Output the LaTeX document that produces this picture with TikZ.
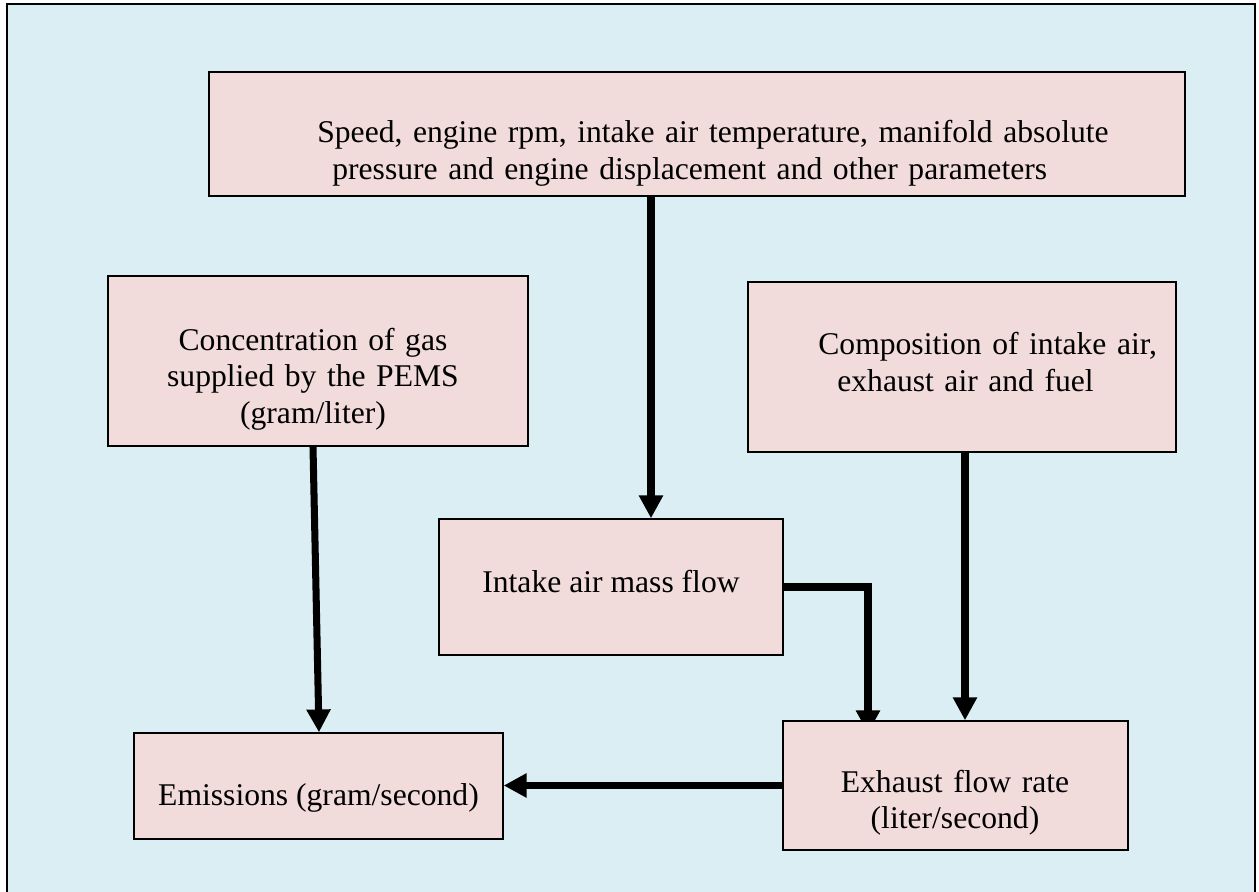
\documentclass[tikz,border=0pt]{standalone}
\usepackage{fontspec}
\setmainfont{Liberation Serif}
\usetikzlibrary{arrows.meta,calc}

\definecolor{paneblue}{HTML}{DAEEF3}
\definecolor{boxpink}{HTML}{F2DBDB}

\pgfdeclarelayer{frame}
\pgfdeclarelayer{links}
\pgfsetlayers{frame,links,main}

\tikzset{
  block/.style={draw=black,line width=0.8pt,fill=boxpink,inner sep=0pt},
  blocktext/.style={inner sep=0pt,font=\fontsize{18}{20.8}\selectfont},
  flow/.style={line width=4pt,line join=miter,-{Triangle[width=13pt,length=13pt]}},
}

\begin{document}
\begin{tikzpicture}[x=0.02cm,y=-0.02cm]

\useasboundingbox (0,0) rectangle (1259,892);

\begin{pgfonlayer}{frame}
\begin{scope}
\clip (0,0) rectangle (1259,892);
\draw [line width=1.2pt,fill=paneblue] (7,4) rectangle (1255,910);
\end{scope}
\end{pgfonlayer}

% boxes
\node [block,minimum width=19.52cm,minimum height=2.48cm] (speed) at (697,134) {};
\node [block,minimum width=8.4cm,minimum height=3.4cm] (conc) at (318,361) {};
\node [block,minimum width=8.56cm,minimum height=3.4cm] (comp) at (962,367) {};
\node [block,minimum width=6.88cm,minimum height=2.72cm] (intake) at (611,587) {};
\node [block,minimum width=7.38cm,minimum height=2.12cm] (emis) at (318.5,786) {};
\node [block,minimum width=6.9cm,minimum height=2.58cm] (exh) at (955.5,785.5) {};

% texts
\node [blocktext,anchor=base west,text width=17cm,align=left] (speedtxt) at (317,143)
  {Speed, engine rpm, intake air temperature, manifold absolute\\
   \hspace*{0.3cm}pressure and engine displacement and other parameters};
\node [blocktext,anchor=base,text width=8cm,align=center] (conctxt) at (313,350)
  {Concentration of gas\\supplied by the PEMS\\(gram/liter)};
\node [blocktext,anchor=base west,text width=8cm,align=left] (comptxt) at (818,355)
  {Composition of intake air,\\\hspace*{0.38cm}exhaust air and fuel};
\node [blocktext,anchor=base] (intaketxt) at (611,592) {Intake air mass flow};
\node [blocktext,anchor=base,text width=6.5cm,align=center] (exhtxt) at (955,792)
  {Exhaust flow rate\\(liter/second)};
\node [blocktext,anchor=base] (emistxt) at (318.5,805) {Emissions (gram/second)};

% arrows
\begin{pgfonlayer}{links}
\draw [flow] (speed.south -| 651,0) -- (intake.north -| 651,0);
\draw [flow] (conc.south -| 313,0) -- (emis.north -| 319,0);
\draw [flow] (intake.east) -| ($(exh.north -| 868,0)+(0,13)$);
\draw [flow] (comp.south -| 965,0) -- (exh.north -| 965,0);
\draw [flow] (exh.west) -- (emis.east |- exh.west);
\end{pgfonlayer}

\end{tikzpicture}
\end{document}
